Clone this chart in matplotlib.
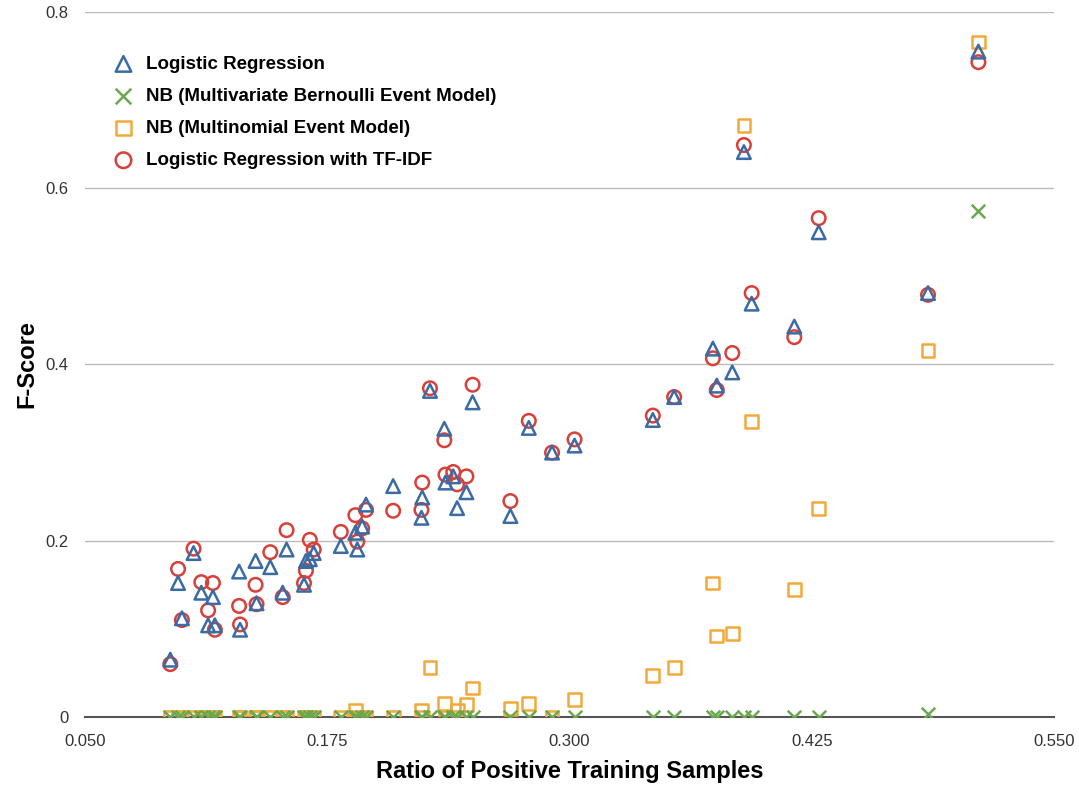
import numpy as np
import matplotlib.pyplot as plt

# ratio of positive samples in the training set (one entry per experiment)
x_ratio = [0.094, 0.098, 0.100, 0.106, 0.110, 0.1135, 0.116, 0.117, 0.1295, 0.130,
           0.138, 0.1385, 0.1456, 0.152, 0.154, 0.163, 0.164, 0.166, 0.168, 0.182,
           0.1895, 0.1905, 0.193, 0.195, 0.209, 0.2236, 0.224, 0.228, 0.2354, 0.236,
           0.240, 0.242, 0.2468, 0.250, 0.2695, 0.279, 0.291, 0.3026, 0.343, 0.354,
           0.374, 0.376, 0.384, 0.390, 0.394, 0.416, 0.4286, 0.485, 0.511]

lr_fscore = [0.065, 0.152, 0.112, 0.186, 0.141, 0.104, 0.136, 0.104, 0.165, 0.099,
             0.177, 0.129, 0.170, 0.141, 0.190, 0.150, 0.177, 0.179, 0.186, 0.194,
             0.209, 0.190, 0.216, 0.241, 0.262, 0.226, 0.249, 0.370, 0.327, 0.266,
             0.273, 0.237, 0.255, 0.357, 0.228, 0.328, 0.300, 0.308, 0.337, 0.363,
             0.418, 0.376, 0.391, 0.641, 0.469, 0.443, 0.550, 0.481, 0.755]

nb_bern_fscore = [0.0] * 47 + [0.003, 0.574]

nb_multi_fscore = [0.0, 0.0, 0.0, 0.0, 0.0, 0.0, 0.0, 0.0, 0.0, 0.0,
                   0.0, 0.0, 0.0, 0.0, 0.0, 0.0, 0.0, 0.0, 0.0, 0.0,
                   0.007, 0.0, 0.0, 0.0, 0.0, 0.008, 0.0, 0.056, 0.015, 0.0,
                   0.0, 0.008, 0.014, 0.033, 0.010, 0.015, 0.0, 0.020, 0.047, 0.056,
                   0.152, 0.092, 0.095, 0.671, 0.335, 0.145, 0.237, 0.416, 0.766]

lr_tfidf_fscore = [0.060, 0.168, 0.110, 0.191, 0.153, 0.121, 0.152, 0.099, 0.126, 0.105,
                   0.150, 0.128, 0.187, 0.136, 0.212, 0.152, 0.166, 0.201, 0.190, 0.210,
                   0.229, 0.199, 0.214, 0.235, 0.234, 0.235, 0.266, 0.373, 0.314, 0.275,
                   0.278, 0.264, 0.273, 0.377, 0.245, 0.336, 0.300, 0.315, 0.342, 0.363,
                   0.407, 0.371, 0.413, 0.649, 0.481, 0.431, 0.566, 0.479, 0.743]

x_ticks = [0.050, 0.175, 0.300, 0.425, 0.550]
y_ticks = [0, 0.2, 0.4, 0.6, 0.8]

plt.rcParams['font.family'] = ['Liberation Sans', 'DejaVu Sans']

fig = plt.figure(figsize=(10.79, 7.86), dpi=100)
ax = fig.add_axes([0.0788, 0.0878, 0.898, 0.897])

ax.scatter(x_ratio, lr_fscore, marker='^', s=95, facecolors='none',
           edgecolors='#3b6ba5', linewidths=1.8, zorder=4, label='Logistic Regression')
ax.scatter(x_ratio, nb_bern_fscore, marker='x', s=95, color='#6aa84f',
           linewidths=1.8, zorder=5, label='NB (Multivariate Bernoulli Event Model)')
ax.scatter(x_ratio, nb_multi_fscore, marker='s', s=85, facecolors='none',
           edgecolors='#f2a93b', linewidths=1.8, zorder=3, label='NB (Multinomial Event Model)')
ax.scatter(x_ratio, lr_tfidf_fscore, marker='o', s=95, facecolors='none',
           edgecolors='#d9403a', linewidths=1.8, zorder=3, label='Logistic Regression with TF-IDF')

ax.set_xlim(0.05, 0.55)
ax.set_ylim(0, 0.8)
ax.set_xticks(x_ticks)
ax.set_xticklabels(['%.3f' % t for t in x_ticks])
ax.set_yticks(y_ticks)
ax.set_yticklabels(['0', '0.2', '0.4', '0.6', '0.8'])
ax.tick_params(length=0, labelsize=12, labelcolor='#333333')
ax.tick_params(axis='y', pad=12)
ax.tick_params(axis='x', pad=12)

ax.grid(axis='y', color='#bbbbbb', linewidth=1)
ax.set_axisbelow(True)
for side in ['top', 'right', 'left']:
    ax.spines[side].set_visible(False)
ax.spines['bottom'].set_color('#555555')
ax.spines['bottom'].set_linewidth(1.5)

ax.set_xlabel('Ratio of Positive Training Samples', fontsize=17, fontweight='bold', labelpad=8)
ax.set_ylabel('F-Score', fontsize=17, fontweight='bold', labelpad=5)

ax.legend(loc='upper left', bbox_to_anchor=(0.030, 0.938), frameon=False,
          prop={'weight': 'bold', 'size': 13.5}, labelspacing=0.8,
          handlelength=1.0, handletextpad=0.72, borderaxespad=0, borderpad=0,
          markerscale=1.15)

fig.savefig('out.png', dpi=100)
